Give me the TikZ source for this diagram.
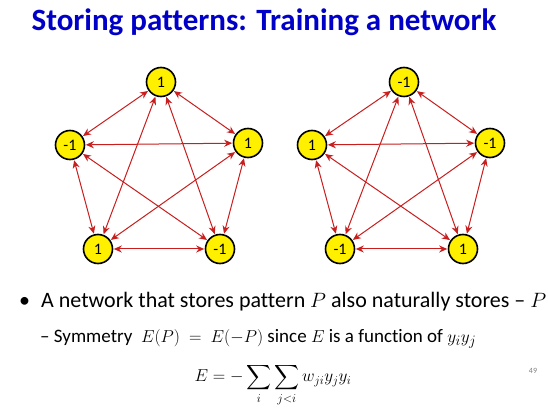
\documentclass[tikz,border=0pt]{standalone}
\usepackage{amsmath}
\usepackage{fontspec}
\setmainfont[Ligatures={NoCommon}]{Carlito}
\usetikzlibrary{arrows.meta}
\definecolor{titleblue}{RGB}{0,0,200}
\definecolor{edgered}{RGB}{200,30,30}
\definecolor{nodeyellow}{RGB}{255,240,0}
\begin{document}
\begin{tikzpicture}[x=1pt,y=-1pt,
  neuron/.style={circle,draw=black,line width=1.6pt,fill=nodeyellow,minimum size=29pt,inner sep=0pt,font=\fontsize{16}{16}\selectfont},
  link/.style={edgered,line width=1pt,{Stealth[length=8pt,width=7pt]}-{Stealth[length=8pt,width=7pt]},shorten <=0.5pt,shorten >=0.5pt}]
\useasboundingbox (0,0) rectangle (548,411);
\fill[white] (0,0) rectangle (548,411);
\node[font=\fontsize{31}{31}\selectfont\bfseries,text=titleblue] (title) at (264,22) {Storing patterns: Training a network};
% left network
\node[neuron] (a1) at (161,82) {1};
\node[neuron] (a2) at (70,145) {-1};
\node[neuron] (a3) at (248,143) {1};
\node[neuron] (a4) at (98,249) {1};
\node[neuron] (a5) at (220,249) {-1};
\foreach \u/\v in {a1/a2,a1/a3,a2/a3,a2/a4,a3/a5,a4/a5,a1/a4,a1/a5,a2/a5,a3/a4}
  \draw[link] (\u) -- (\v);
% right network
\node[neuron] (b1) at (404,82) {-1};
\node[neuron] (b2) at (312,145) {1};
\node[neuron] (b3) at (490,143) {-1};
\node[neuron] (b4) at (340,249) {-1};
\node[neuron] (b5) at (463,249) {1};
\foreach \u/\v in {b1/b2,b1/b3,b2/b3,b2/b4,b3/b5,b4/b5,b1/b4,b1/b5,b2/b5,b3/b4}
  \draw[link] (\u) -- (\v);
% text
\node[anchor=base west,font=\fontsize{22}{22}\selectfont,inner sep=0pt] (bul) at (19,307) {\textbullet\hspace{0.5em}A network that stores pattern $P$ also naturally stores – $P$};
\node[anchor=base west,font=\fontsize{19}{19}\selectfont,inner sep=0pt] (sub) at (40,342) {– Symmetry\ \ $E(P)\ =\ E(-P)$ since $E$ is a function of $y_iy_j$};
\node[font=\fontsize{18}{18}\selectfont,inner sep=0pt] (eq) at (273,385) {$\displaystyle E=-\sum_{i}\sum_{j<i} w_{ji}y_jy_i$};
\node[font=\fontsize{8}{8}\selectfont,text=gray] (pg) at (533,371) {49};
\end{tikzpicture}
\end{document}
